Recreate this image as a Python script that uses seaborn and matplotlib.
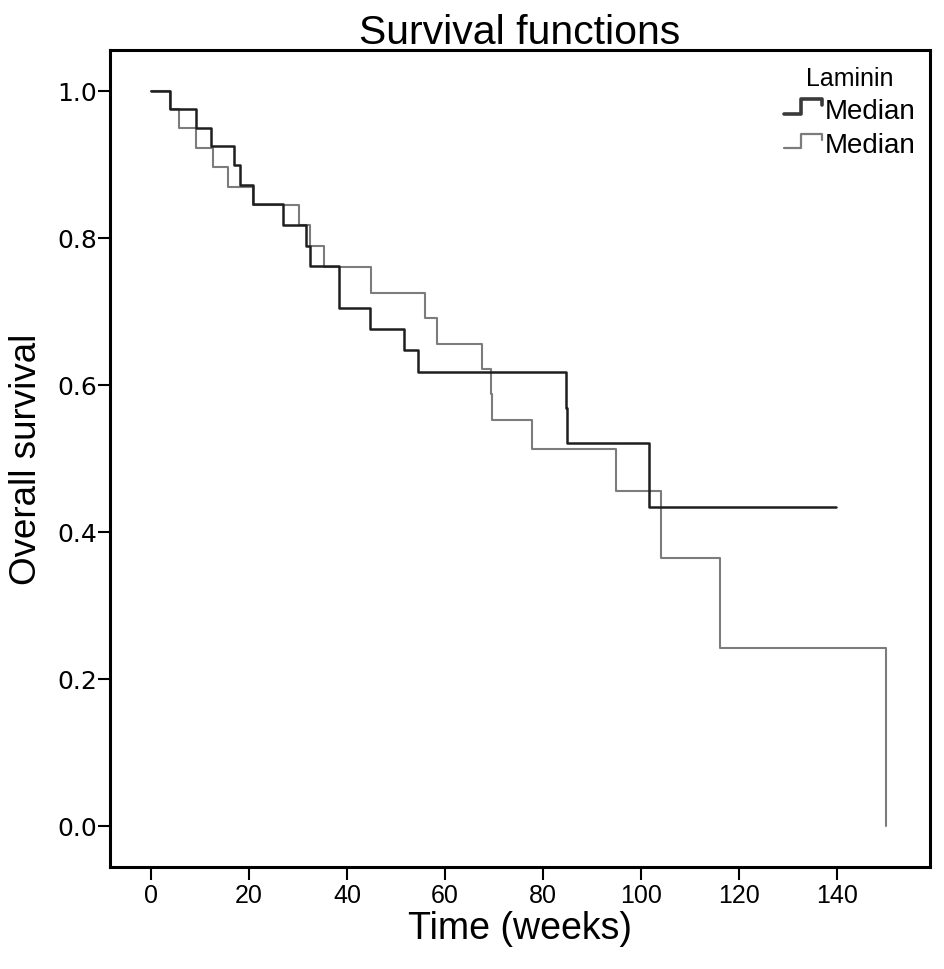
import matplotlib
matplotlib.use("Agg")
import matplotlib.pyplot as plt
from matplotlib.legend_handler import HandlerLine2D
from matplotlib.lines import Line2D
import seaborn as sns
import pandas as pd

# ---- data ----
black_time = [0, 3.8, 9.1, 12.2, 17.0, 18.2, 20.8, 27.0, 31.7, 32.5, 38.3,
              44.6, 51.7, 54.4, 84.6, 84.9, 101.6, 139.8]
black_surv = [1.0, 0.975, 0.950, 0.925, 0.899, 0.872, 0.846, 0.818, 0.789,
              0.762, 0.704, 0.676, 0.647, 0.617, 0.569, 0.521, 0.434, 0.434]

gray_time = [0, 3.8, 5.8, 9.1, 12.7, 15.8, 20.8, 30.3, 32.5, 35.4, 44.8,
             56.0, 58.4, 67.6, 69.4, 69.6, 77.8, 95.0, 104.1, 116.1, 150.1]
gray_surv = [1.0, 0.975, 0.949, 0.923, 0.897, 0.870, 0.845, 0.818, 0.789,
             0.760, 0.725, 0.691, 0.655, 0.621, 0.587, 0.552, 0.513, 0.455,
             0.364, 0.242, 0.0]

group_labels = ["Median", "Median"]
legend_title = "Laminin"
x_ticks = [0, 20, 40, 60, 80, 100, 120, 140]
y_ticks = [0.0, 0.2, 0.4, 0.6, 0.8, 1.0]

df = pd.concat([
    pd.DataFrame({"time": black_time, "surv": black_surv, "grp": "A"}),
    pd.DataFrame({"time": gray_time, "surv": gray_surv, "grp": "B"}),
], ignore_index=True)

sns.set_theme(style="white")
plt.rcParams["font.family"] = ["Liberation Sans", "DejaVu Sans"]
plt.rcParams["text.color"] = "black"
plt.rcParams["axes.labelcolor"] = "black"
plt.rcParams["xtick.color"] = "black"
plt.rcParams["ytick.color"] = "black"

fig = plt.figure(figsize=(9.45, 9.70), dpi=100)
ax = fig.add_axes([110 / 945, 1 - 868 / 970, 820 / 945, 817 / 970])

colors = {"A": "#1e1e1e", "B": "#7c7c7c"}
sns.lineplot(data=df[df.grp == "B"], x="time", y="surv", color=colors["B"],
             drawstyle="steps-post", estimator=None, sort=False, lw=1.5,
             ax=ax, legend=False)
sns.lineplot(data=df[df.grp == "A"], x="time", y="surv", color=colors["A"],
             drawstyle="steps-post", estimator=None, sort=False, lw=1.8,
             ax=ax, legend=False)

ax.set_xlim(-8.38, 159.0)
ax.set_ylim(-0.0562, 1.0558)
ax.set_xticks(x_ticks)
ax.set_yticks(y_ticks)
ax.set_yticklabels([f"{v:.1f}" for v in y_ticks], family="DejaVu Sans", fontsize=18)
ax.set_xticklabels([str(v) for v in x_ticks], fontsize=18)

for s in ax.spines.values():
    s.set_color("black")
    s.set_linewidth(2.2)
ax.tick_params(axis="y", direction="out", length=8.5, width=1.5, color="black",
               pad=1, left=True)
ax.tick_params(axis="x", direction="out", length=9.5, width=1.5, color="black",
               pad=2, bottom=True)

ax.set_xlabel("Time (weeks)", fontsize=27, labelpad=2, color="black")
ax.set_ylabel("Overall survival", fontsize=26.5, labelpad=9, color="black")
ax.set_title("Survival functions", fontsize=29.5, pad=5, color="black")


class StepHandler(HandlerLine2D):
    def create_artists(self, legend, orig_handle, xdescent, ydescent,
                       width, height, fontsize, trans):
        x0 = -xdescent
        low = -ydescent + height * 0.2
        high = -ydescent + height * 0.95
        xs = [x0, x0 + width * 0.45, x0 + width * 0.45, x0 + width, x0 + width]
        ys = [low, low, high, high, high - height * 0.3]
        ln = Line2D(xs, ys, color=orig_handle.get_color(),
                    lw=orig_handle.get_linewidth())
        ln.set_transform(trans)
        return [ln]


h1 = Line2D([], [], color="#3a3a3a", lw=2.6)
h2 = Line2D([], [], color="#7c7c7c", lw=1.6)
leg = ax.legend([h1, h2], group_labels, title=legend_title,
                handler_map={Line2D: StepHandler()},
                loc="upper right", bbox_to_anchor=(0.9995, 0.998),
                frameon=False, borderpad=0, handlelength=1.35,
                handletextpad=0.12, labelspacing=0.3,
                prop={"family": "Liberation Sans", "size": 20},
                title_fontproperties={"family": "Liberation Sans", "size": 18})

fig.savefig("out.png", dpi=100)
